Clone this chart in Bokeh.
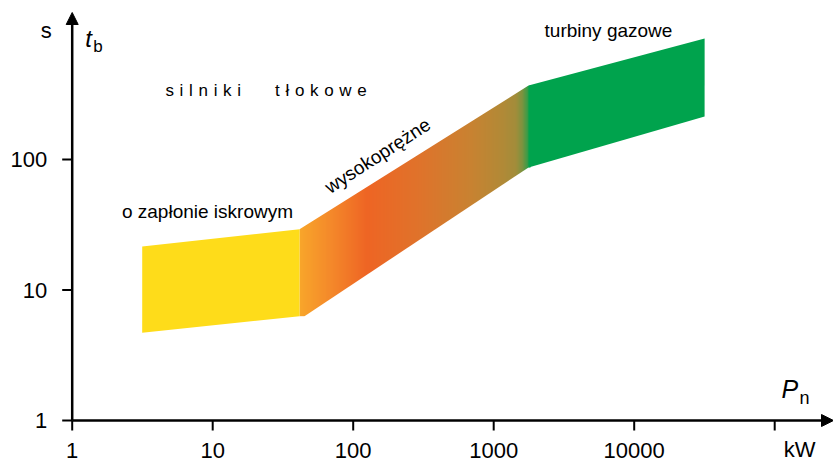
import numpy as np
from bokeh.plotting import figure
from bokeh.models import Range1d, Label, Arrow, NormalHead
from bokeh.embed import file_html
from bokeh.resources import INLINE

# ---- data (power P_n in kW, start-up time t_b in s) ----
x_ticks = [1, 10, 100, 1000, 10000, 100000]
x_tick_labels = ["1", "10", "100", "1000", "10000", ""]
y_ticks = [1, 10, 100]
y_tick_labels = ["1", "10", "100"]

# spark-ignition engines
P_spark = [3.15, 41.5]
t_spark_upper = [21.5, 29.2]
t_spark_lower = [4.7, 6.3]

# diesel (compression-ignition) engines
P_diesel_upper = [41.5, 1770]
t_diesel_upper = [29.2, 369]
P_diesel_lower = [45, 1770]
t_diesel_lower = [6.3, 87]

# gas turbines
P_gas = [1770, 31700]
t_gas_upper = [369, 846]
t_gas_lower = [87, 214]

# colour stops of the diesel band gradient (position in kW)
grad_P = [41.5, 69, 126, 300, 680, 1120, 1430, 1600, 1740, 1830]
grad_colors = ["#F8A62A", "#F4892A", "#EE6524", "#DF732B", "#C98231",
               "#B38936", "#A48C3A", "#7E933F", "#3A9C48", "#00A34D"]

YELLOW = "#FEDC1A"
GREEN = "#00A34D"
FONT = "Liberation Sans"

# ---- layout of the log-log frame (pixels) ----
W, H = 833, 461
PX0, PXD = 71.7, 140.5      # x pixel of P=1, pixels per decade
PY0, PYD = 420.0, 130.5     # y pixel of t=1, pixels per decade
X_LO, X_HI = 10 ** (-PX0 / PXD), 10 ** ((W - PX0) / PXD)
Y_LO, Y_HI = 10 ** (-(H - PY0) / PYD), 10 ** (PY0 / PYD)
Y_TIP = 10 ** ((PY0 - 12) / PYD)
TICK = 10  # px

p = figure(width=W, height=H, x_axis_type="log", y_axis_type="log",
           x_axis_location=None, y_axis_location=None,
           x_range=Range1d(X_LO, X_HI), y_range=Range1d(Y_LO, Y_HI),
           output_backend="svg", toolbar_location=None, min_border=0)
p.grid.visible = False
p.outline_line_color = None
p.background_fill_color = "white"

# ---- diesel band: gradient image, trimmed by white masks ----
N = 480
g0, g1 = grad_P[0], grad_P[-1]
logs = np.linspace(np.log10(g0), np.log10(g1), N)
rgb = np.array([[int(c[i:i + 2], 16) for i in (1, 3, 5)] for c in grad_colors])
img = np.empty((1, N), dtype=np.uint32)
view = img.view(dtype=np.uint8).reshape((1, N, 4))
for ch in range(3):
    view[0, :, ch] = np.round(np.interp(logs, np.log10(grad_P), rgb[:, ch])).astype(np.uint8)
view[0, :, 3] = 255
band_bottom = t_diesel_lower[0]
band_top = t_diesel_upper[-1]
p.image_rgba(image=[img], x=g0, y=band_bottom, dw=g1 - g0, dh=band_top - band_bottom)

m = 1.08  # mask overshoot factor
# mask above the upper edge
p.patch(x=[P_diesel_upper[0], P_diesel_upper[1], g1 * m, g1 * m, g0 / m, g0 / m],
        y=[t_diesel_upper[0], t_diesel_upper[1], t_diesel_upper[1],
           band_top * m, band_top * m, t_diesel_upper[0]],
        fill_color="white", line_color=None)
# mask below the lower edge
p.patch(x=[P_diesel_lower[0], P_diesel_lower[1], g1 * m, g1 * m, P_diesel_lower[0]],
        y=[t_diesel_lower[0], t_diesel_lower[1], t_diesel_lower[1],
           band_bottom / m, band_bottom / m],
        fill_color="white", line_color=None)

# spark ignition band
p.patch(x=P_spark + P_spark[::-1], y=t_spark_upper + t_spark_lower[::-1],
        fill_color=YELLOW, line_color=None)
# gas turbine band
p.patch(x=P_gas + P_gas[::-1], y=t_gas_upper + t_gas_lower[::-1],
        fill_color=GREEN, line_color=None)

# ---- axes (drawn through the log scales) ----
p.add_layout(Arrow(end=NormalHead(size=12, fill_color="black", line_color="black"),
                   x_start=1, y_start=1, x_end=1, y_end=Y_TIP,
                   line_width=2.5, line_color="black"))
p.add_layout(Arrow(end=NormalHead(size=12, fill_color="black", line_color="black"),
                   x_start=1, y_start=1, x_end=X_HI, y_end=1,
                   line_width=2.5, line_color="black"))
tick_dy = 10 ** (-TICK / PYD)
tick_dx = 10 ** (-TICK / PXD)
p.segment(x0=x_ticks, y0=[1] * len(x_ticks), x1=x_ticks, y1=[tick_dy] * len(x_ticks),
          line_width=2, line_color="black")
p.segment(x0=[1] * len(y_ticks), y0=y_ticks, x1=[tick_dx] * len(y_ticks), y1=y_ticks,
          line_width=2, line_color="black")


def lab(text, x, y, size, align="left", baseline="alphabetic", style="normal",
        xo=0, yo=0, angle=0):
    p.add_layout(Label(x=x, y=y, text=text, text_font=FONT, text_font_size=size,
                       text_align=align, text_baseline=baseline,
                       text_font_style=style, text_color="black",
                       x_offset=xo, y_offset=yo, angle=angle))


for xv, txt in zip(x_ticks, x_tick_labels):
    lab(txt, xv, 1, "22px", align="center", baseline="top", yo=-22)
for yv, txt in zip(y_ticks, y_tick_labels):
    lab(txt, 1, yv, "22px", align="right", baseline="middle", xo=-25)

# axis titles / units
lab("s", 1, Y_HI, "22px", align="center", xo=-26, yo=-30)
lab("t", 1, Y_HI, "24px", style="italic", xo=13, yo=-38)
lab("b", 1, Y_HI, "17px", xo=21, yo=-46)
lab("P", X_HI, 1, "25px", style="italic", xo=-52, yo=32)
lab("n", X_HI, 1, "18px", xo=-34, yo=23)
lab("kW", x_ticks[-1], 1, "22px", align="center", baseline="top", xo=25, yo=-16)

# band captions
sp = "\u2004"
word1 = sp.join("silniki")
word2 = sp.join("tłokowe")
lab(word1 + sp * 6 + word2, 4.61, 299, "17px", yo=7)
lab("o zapłonie iskrowym", 9.18, 35.9, "19px", align="center", yo=6)
lab("wysokoprężne", 149, 107, "19px", align="center", baseline="middle", angle=0.576)
lab("turbiny gazowe", 6560, 891, "19px", align="center", yo=5)

open("out.html", "w").write(file_html(p, INLINE))
